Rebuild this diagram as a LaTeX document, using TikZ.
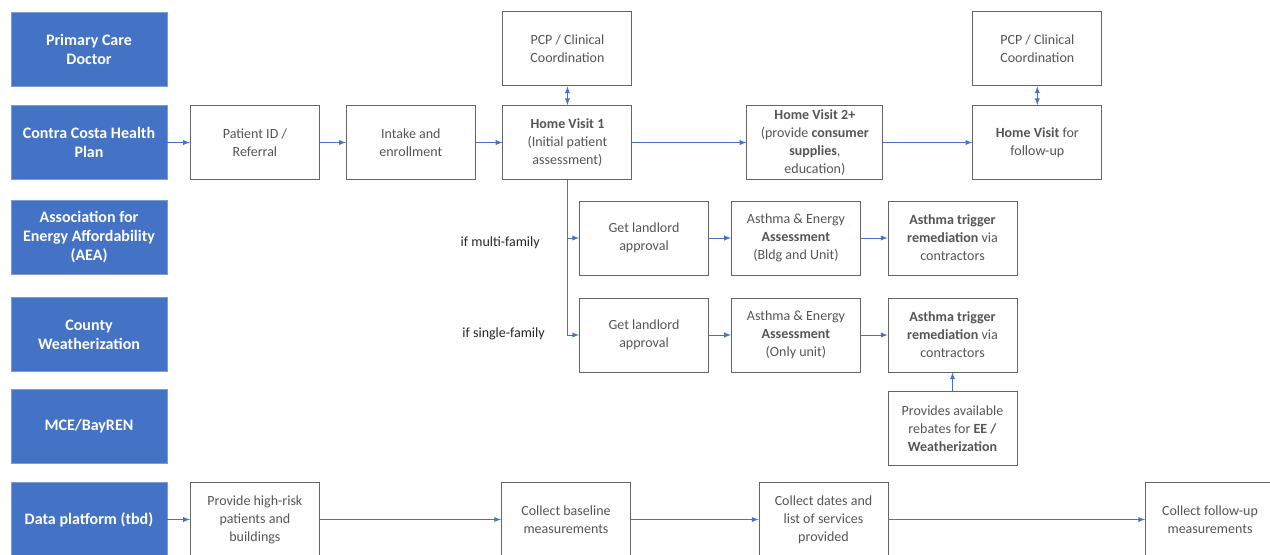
\documentclass[tikz,border=0pt]{standalone}
\usepackage{fontspec}
\setmainfont{Carlito}
\usepackage{xcolor}
\usepackage{tikz}
\usetikzlibrary{arrows}
\usetikzlibrary{positioning}

\definecolor{laneblue}{RGB}{68,114,196}
\definecolor{boxtext}{RGB}{85,85,85}
\definecolor{boxline}{RGB}{100,100,100}

\tikzset{
  lane/.style={draw=laneblue!70!white, fill=laneblue, text=white,
    font=\bfseries\fontsize{12}{14.25}\selectfont, align=center,
    minimum width=117pt, minimum height=55.5pt, inner sep=1pt},
  box/.style={draw=boxline, line width=0.7pt, fill=white, text=boxtext,
    font=\fontsize{10.5}{13.5}\selectfont, align=center,
    minimum width=96.75pt, minimum height=55.5pt, inner sep=1pt},
  flow/.style={draw=laneblue, line width=0.75pt, ->, >=latex},
  cond/.style={text=black!85, font=\fontsize{10.5}{13.5}\selectfont, inner sep=0pt}
}

\begin{document}
\begin{tikzpicture}[x=0.75pt,y=-0.75pt]
    \clip (0,0) rectangle (1270,554);

    % partner lanes
    \node[lane] (pcd) at (89,49) {Primary Care\\Doctor};
    \node[lane] (cch) at (89,142.5) {Contra Costa Health\\Plan};
    \node[lane] (aea) at (89,237.5) {Association for\\Energy Affordability\\(AEA)};
    \node[lane] (cw) at (89,334.5) {County\\Weatherization};
    \node[lane] (mce) at (89,426.5) {MCE/BayREN};
    \node[lane] (data) at (89,519.5) {Data platform (tbd)};

    % health plan row
    \node[box, right=17pt of cch] (pid) {Patient ID /\\Referral};
    \node[box, right=19.5pt of pid] (intake) {Intake and\\enrollment};
    \node[box, right=20pt of intake] (hv1) {\textbf{Home Visit 1}\\(Initial patient\\assessment)};
    \node[box, right=85.5pt of hv1, minimum width=102pt] (hv2) {\textbf{Home Visit 2+}\\(provide \textbf{consumer}\\\textbf{supplies},\\education)};
    \node[box, right=66.75pt of hv2] (hvf) {\textbf{Home Visit} for\\follow-up};
    \node[box, above=14pt of hv1] (pcpA) {PCP / Clinical\\Coordination};
    \node[box, above=14pt of hvf] (pcpB) {PCP / Clinical\\Coordination};

    % AEA row
    \node[box] (llA) at (644,238) {Get landlord\\approval};
    \node[box, right=16.5pt of llA] (aeA) {Asthma \& Energy\\\textbf{Assessment}\\(Bldg and Unit)};
    \node[box, right=20pt of aeA] (atA) {\textbf{Asthma trigger}\\\textbf{remediation} via\\contractors};

    % county row
    \node[box] (llB) at (644,335) {Get landlord\\approval};
    \node[box, right=16.5pt of llB] (aeB) {Asthma \& Energy\\\textbf{Assessment}\\(Only unit)};
    \node[box, right=20pt of aeB] (atB) {\textbf{Asthma trigger}\\\textbf{remediation} via\\contractors};
    \node[box, below=14pt of atB] (rebate) {Provides available\\rebates for \textbf{EE /}\\\textbf{Weatherization}};

    % data row
    \node[box, right=17pt of data] (hr) {Provide high-risk\\patients and\\buildings};
    \node[box] (base) at (566,519.5) {Collect baseline\\measurements};
    \node[box] (dates) at (823.5,519.5) {Collect dates and\\list of services\\provided};
    \node[box] (fup) at (1210,519.5) {Collect follow-up\\measurements};

    % conditions
    \node[cond, anchor=east] (multi) at (540,243) {if multi-family};
    \node[cond, anchor=east] (single) at (545,334) {if single-family};

    \draw[flow] (cch) -- (pid);
    \draw[flow] (pid) -- (intake);
    \draw[flow] (intake) -- (hv1);
    \draw[flow] (hv1) -- (hv2);
    \draw[flow] (hv2) -- (hvf);
    \draw[flow, <->] (hv1) -- (pcpA);
    \draw[flow, <->] (hvf) -- (pcpB);
    \draw[flow] (hv1.south) |- (llA);
    \draw[flow] (hv1.south) |- (llB);
    \draw[flow] (llA) -- (aeA);
    \draw[flow] (aeA) -- (atA);
    \draw[flow] (llB) -- (aeB);
    \draw[flow] (aeB) -- (atB);
    \draw[flow] (rebate) -- (atB);
    \draw[flow] (data) -- (hr);
    \draw[flow] (hr) -- (base);
    \draw[flow] (base) -- (dates);
    \draw[flow] (dates) -- (fup);
\end{tikzpicture}
\end{document}
